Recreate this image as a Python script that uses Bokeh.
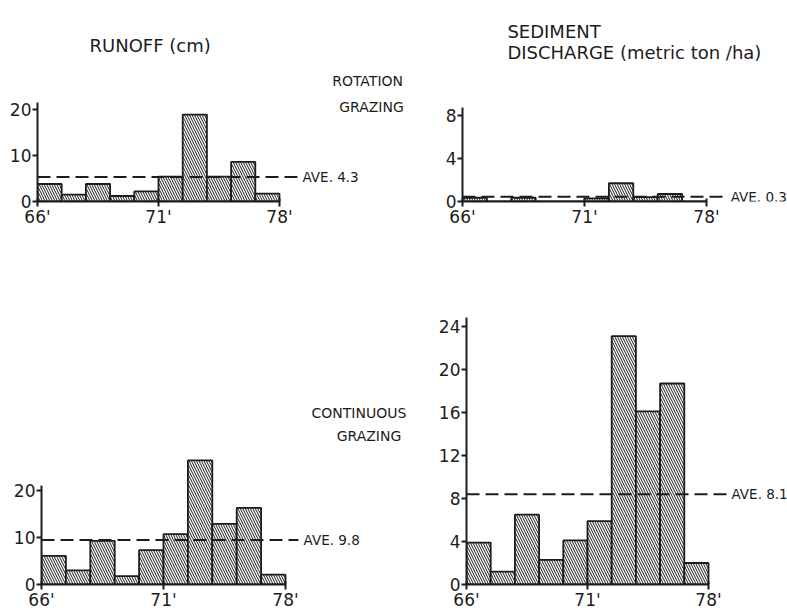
from bokeh.plotting import figure
from bokeh.models import FixedTicker, Label, LinearAxis
from bokeh.layouts import row, column
from bokeh.embed import file_html
from bokeh.resources import INLINE
import numpy as np

# ---------------- data ----------------
n_periods = 10
tick_positions = [0, 5, 10]
tick_labels = ["66'", "71'", "78'"]

runoff_rotation = [3.8, 1.5, 3.8, 1.2, 2.2, 5.4, 18.9, 5.4, 8.6, 1.7]
runoff_rotation_ave = 5.35
runoff_rotation_ave_text = "AVE. 4.3"

sediment_rotation = [0.35, 0.0, 0.35, 0.0, 0.0, 0.3, 1.7, 0.4, 0.7, 0.0]
sediment_rotation_ave = 0.45
sediment_rotation_ave_text = "AVE. 0.3"

runoff_continuous = [6.1, 3.0, 9.3, 1.8, 7.3, 10.7, 26.4, 12.9, 16.3, 2.1]
runoff_continuous_ave = 9.45
runoff_continuous_ave_text = "AVE. 9.8"

sediment_continuous = [3.9, 1.2, 6.5, 2.3, 4.1, 5.9, 23.1, 16.1, 18.7, 2.0]
sediment_continuous_ave = 8.4
sediment_continuous_ave_text = "AVE. 8.1"

runoff_yticks = [0, 10, 20]
sed_rot_yticks = [0, 4, 8]
sed_cont_yticks = [0, 4, 8, 12, 16, 20, 24]

FONT = "DejaVu Sans"
INK = "#1c1c1c"


def panel(vals, w, h, left, bottom, px_x, px_y, yticks, ytop,
          ave, ave_txt, ave_x, dash_end):
    fw = w - left
    fh = h - bottom
    p = figure(width=w, height=h, x_range=(0, fw / px_x), y_range=(0, fh / px_y),
               output_backend="svg", toolbar_location=None,
               min_border_left=left, min_border_bottom=bottom,
               min_border_top=0, min_border_right=0,
               x_axis_type=None, y_axis_type=None)
    p.outline_line_color = None
    p.background_fill_color = "white"
    p.border_fill_color = "white"
    p.grid.visible = False

    xa = LinearAxis(ticker=FixedTicker(ticks=tick_positions),
                    major_label_overrides={t: l for t, l in zip(tick_positions, tick_labels)},
                    bounds=(0, n_periods))
    ya = LinearAxis(ticker=FixedTicker(ticks=yticks), bounds=(0, ytop))
    for a in (xa, ya):
        a.axis_line_width = 2
        a.axis_line_color = INK
        a.major_tick_line_width = 2
        a.major_tick_line_color = INK
        a.minor_tick_line_color = None
        a.major_label_text_font = FONT
        a.major_label_text_font_size = "17px"
        a.major_label_text_color = INK
    xa.major_tick_out = 5
    xa.major_tick_in = 3
    xa.major_label_standoff = 0
    ya.major_tick_out = 5
    ya.major_tick_in = 0
    ya.major_label_standoff = 1
    p.add_layout(xa, "below")
    p.add_layout(ya, "left")

    xs = np.arange(n_periods) + 0.5
    p.vbar(x=xs, top=vals, bottom=0, width=1.0,
           fill_color="white", line_color=INK, line_width=1.8,
           hatch_pattern="\\", hatch_color=INK, hatch_scale=5, hatch_weight=1.0)
    p.segment(x0=[0], y0=[ave], x1=[dash_end], y1=[ave],
              line_color=INK, line_width=2, line_dash="13 6")
    p.add_layout(Label(x=ave_x, y=ave, text=ave_txt, text_font=FONT,
                       text_font_size="13.5px", text_color=INK,
                       text_align="left", text_baseline="middle"))
    return p


def txt(p, x, y, s, size, align="left"):
    p.add_layout(Label(x=x, y=y, text=s, text_font=FONT, text_font_size=size,
                       text_color=INK, text_align=align, text_baseline="middle"))


TOP_H = 232
BOT_H = 380
LEFT_W = 408
RIGHT_W = 379

# top-left: runoff, rotation grazing
tl = panel(runoff_rotation, LEFT_W, TOP_H, 37, 31, 24.2, 4.6, runoff_yticks, 21.5,
           runoff_rotation_ave, runoff_rotation_ave_text, 10.95, 10.74)
txt(tl, 2.15, 33.9, "RUNOFF (cm)", "18px")
txt(tl, 13.64, 26.1, "ROTATION", "14px", "center")
txt(tl, 13.8, 20.5, "GRAZING", "14px", "center")

# top-right: sediment, rotation grazing
tr = panel(sediment_rotation, RIGHT_W, TOP_H, 54, 31, 24.4, 10.75, sed_rot_yticks, 8.7,
           sediment_rotation_ave, sediment_rotation_ave_text, 10.99, 10.8)
txt(tr, 1.84, 15.86, "SEDIMENT", "18px")
txt(tr, 1.84, 13.86, "DISCHARGE (metric ton /ha)", "18px")

# bottom-left: runoff, continuous grazing
bl = panel(runoff_continuous, LEFT_W, BOT_H, 41, 28, 24.4, 4.7, runoff_yticks, 21.1,
           runoff_continuous_ave, runoff_continuous_ave_text, 10.74, 10.53)
txt(bl, 13.01, 36.4, "CONTINUOUS", "14px", "center")
txt(bl, 13.42, 31.7, "GRAZING", "14px", "center")

# bottom-right: sediment, continuous grazing
br = panel(sediment_continuous, RIGHT_W, BOT_H, 58, 28, 24.2, 10.75, sed_cont_yticks, 24.85,
           sediment_continuous_ave, sediment_continuous_ave_text, 10.95, 10.9)

layout = column(row(tl, tr), row(bl, br))
open("out.html", "w").write(file_html(layout, INLINE))
